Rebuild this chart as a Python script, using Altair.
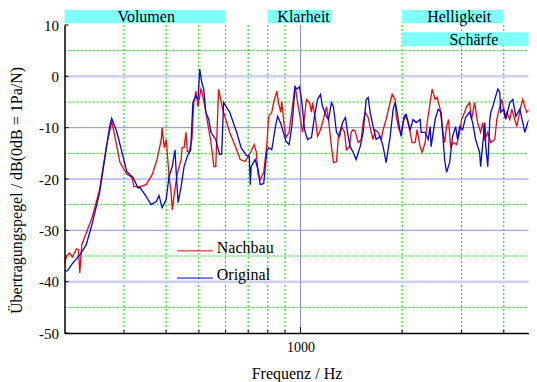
import altair as alt
import pandas as pd

# ---------------- data ----------------
orig_f = [200, 204, 211, 222, 232, 242, 254, 263, 272, 276, 286, 296, 306, 319, 330, 335,
          349, 361, 374, 381, 389, 400, 408, 417, 425, 428, 434, 443, 452, 462, 473, 480,
          490, 497, 503, 510, 517, 524, 535, 543, 561, 576, 584, 592, 617, 647, 667, 691,
          705, 710, 714, 734, 749, 760, 778, 795, 805, 822, 845, 856, 874, 906, 925, 944,
          964, 977, 993, 1007, 1028, 1049, 1078, 1100, 1123, 1146, 1162, 1194, 1210, 1235,
          1252, 1278, 1305, 1332, 1359, 1378, 1403, 1432, 1461, 1502, 1533, 1565, 1586, 1608,
          1641, 1675, 1721, 1757, 1793, 1843, 1881, 1907, 1933, 1973, 1986, 2027, 2055, 2112,
          2156, 2200, 2261, 2277, 2340, 2388, 2421, 2437, 2505, 2557, 2609, 2645, 2672, 2708,
          2764, 2821, 2880, 2919, 2960, 3021, 3083, 3168, 3234, 3301, 3392, 3415, 3514, 3538,
          3586, 3636, 3661, 3711, 3762, 3840, 3892, 3919, 4000, 4055, 4167, 4253, 4341, 4461,
          4553, 4616, 4711, 4809, 5000]
orig_db = [-37.9, -37.9, -36.5, -34.8, -32.8, -28.5, -22.7, -16.2, -9.8, -8.2, -10.9, -14.8, -18.6, -19.7, -21.7, -21.7,
           -23.4, -25.0, -24.4, -23.2, -25.6, -24.0, -19.5, -17.6, -14.3, -18.2, -24.6, -21.5, -17.6, -15.6, -14.3, -5.1,
           -3.9, -4.5, 1.4, -1.2, -2.5, -7.0, -8.4, -10.9, -12.3, -15.2, -15.2, -5.1, -7.0, -10.9, -13.9, -15.4,
           -15.6, -21.1, -17.6, -16.2, -18.2, -21.1, -20.9, -14.6, -13.9, -14.3, -9.4, -7.8, -9.2, -12.7, -13.3, -9.4,
           -2.1, -2.5, -2.0, -4.5, -10.4, -12.3, -11.9, -7.8, -4.5, -3.5, -5.9, -7.8, -8.4, -5.1,
           -5.9, -10.9, -11.7, -9.0, -8.0, -10.9, -13.7, -14.8, -16.2, -13.7, -10.9, -4.5, -4.1, -7.0,
           -9.8, -12.3, -11.7, -13.7, -16.8, -11.7, -6.4, -5.1, -7.0, -10.9, -11.7, -7.8, -7.4, -10.4,
           -8.4, -9.0, -8.4, -10.9, -10.9, -12.3, -9.8, -13.7, -8.4, -6.4, -7.0, -12.3, -16.2, -18.7,
           -16.8, -11.7, -9.8, -12.3, -9.8, -10.4, -8.0, -7.0, -9.0, -12.3, -14.8, -17.6, -9.0, -13.7,
           -17.6, -8.4, -7.0, -5.9, -4.5, -2.5, -3.1, -7.0, -6.4, -8.4, -5.1, -4.5, -7.8, -6.4,
           -9.0, -10.9, -9.0, -7.8, -9.0]

nach_f = [200, 203, 207, 211, 217, 220, 222, 225, 232, 242, 254, 266, 276, 282, 292, 306,
          317, 321, 335, 349, 364, 376, 387, 389, 395, 400, 403, 408, 414, 417, 422, 431,
          443, 446, 452, 458, 462, 467, 477, 483, 490, 497, 507, 510, 524, 543, 554, 561,
          572, 588, 617, 647, 663, 686, 700, 714, 729, 739, 749, 760, 778, 795, 805, 822,
          833, 851, 862, 874, 880, 894, 906, 925, 944, 964, 977, 1000, 1014, 1028, 1042, 1063,
          1078, 1085, 1108, 1123, 1146, 1162, 1194, 1210, 1235, 1252, 1278, 1295, 1322, 1350, 1368, 1397,
          1412, 1432, 1452, 1482, 1512, 1533, 1554, 1586, 1619, 1641, 1664, 1698, 1733, 1757, 1793, 1843,
          1868, 1907, 1920, 1959, 1986, 2014, 2041, 2069, 2112, 2141, 2185, 2215, 2261, 2292, 2340, 2372,
          2421, 2454, 2505, 2539, 2592, 2627, 2672, 2708, 2745, 2783, 2841, 2899, 2960, 3000, 3062, 3104,
          3168, 3212, 3278, 3346, 3415, 3466, 3514, 3586, 3661, 3762, 3814, 3892, 3946, 4027, 4083, 4167,
          4224, 4312, 4371, 4492, 4553, 4616, 4679, 4776, 4842, 5000]
nach_db = [-36.5, -35.0, -34.4, -35.2, -33.6, -33.8, -38.3, -32.8, -30.5, -27.3, -22.1, -13.7, -8.8, -11.7, -16.8, -19.1,
           -19.7, -21.5, -21.5, -21.1, -19.1, -16.2, -12.3, -10.0, -13.9, -12.3, -14.8, -19.5, -22.7, -26.0, -23.4, -19.1,
           -16.2, -13.9, -13.9, -10.9, -14.6, -14.8, -12.3, -5.1, -2.9, -5.9, -2.5, -2.9, -6.8, -12.9, -17.6, -17.6,
           -2.5, -6.4, -10.9, -14.3, -16.2, -16.6, -15.6, -14.6, -13.3, -14.6, -19.1, -20.1, -18.7, -13.3, -7.8, -7.0,
           -5.1, -2.9, -5.3, -7.0, -4.9, -9.4, -11.9, -10.9, -6.4, -1.8, -4.5, -8.4, -10.9, -7.8, -4.5, -5.1,
           -7.0, -5.1, -8.4, -11.7, -10.4, -9.0, -5.9, -8.4, -13.7, -16.8, -16.6, -11.7, -9.8, -10.9, -14.3, -13.7,
           -10.9, -10.4, -10.7, -12.9, -12.3, -9.0, -7.0, -8.0, -10.9, -12.3, -10.4, -10.9, -12.3, -10.4, -8.4, -5.1,
           -3.5, -4.5, -7.8, -10.4, -10.9, -9.0, -7.8, -8.4, -10.9, -12.9, -12.9, -10.4, -13.7, -14.8, -12.9, -9.0,
           -5.1, -2.5, -4.5, -4.1, -6.4, -9.8, -12.9, -9.8, -8.4, -13.7, -12.9, -13.3, -10.9, -8.4, -7.0, -5.9,
           -5.1, -8.4, -5.1, -9.0, -10.9, -9.0, -12.3, -10.9, -12.9, -12.3, -8.4, -5.9, -4.5, -7.8, -7.0, -8.4,
           -6.4, -8.4, -9.8, -5.9, -4.5, -5.9, -7.0, -6.4, -9.8, -9.0]

series_names = ["Nachbau", "Original"]
series_colors = ["#ff0000", "#0000ff"]

# visible frequency range (the reference is cut off at the right edge)
f_min, f_max = 200, 4734

# frequency bands (banners above the plot)
band_names = ["Volumen", "Klarheit", "Helligkeit", "Schärfe"]
band_f_lo = [200, 800, 2000, 2000]
band_f_hi = [600, 1240, 4000, 4734]
band_db_lo = [10.35, 10.35, 10.35, 5.9]
band_db_hi = [12.9, 12.9, 12.9, 8.6]
band_text_f = [349, 1021, 2950, 3262]
band_text_db = [11.6, 11.6, 11.6, 7.1]

# grid values
green_v_f = [300, 400, 500, 600, 700, 800, 900, 2000, 3000, 4000]
green_h_db = [-45, -35, -25, -15, -5, 5]
blue_h_db = [-10, -20, -30]
pale_h_db = [0, -40]
blue_v_f = [1000]
y_ticks = [10, 0, -10, -20, -30, -40, -50]
x_tick_label = [1000]

# legend entries (drawn inside the plot)
legend_f_start = [431, 431]
legend_f_end = [550, 550]
legend_db = [-34.0, -39.3]
legend_text_f = [565, 565]
legend_text_db = [-33.4, -38.7]

# ---------------- chart ----------------
W, H = 464, 308
FONT = "Liberation Serif, DejaVu Serif, serif"
xs = alt.Scale(type="log", domain=[f_min, f_max], nice=False)
ys = alt.Scale(domain=[-50, 10], nice=False, zero=False)

curves = pd.concat([
    pd.DataFrame({"f": nach_f, "db": nach_db, "s": "Nachbau"}),
    pd.DataFrame({"f": orig_f, "db": orig_db, "s": "Original"}),
], ignore_index=True)

color_enc = alt.Color("s:N", scale=alt.Scale(domain=series_names, range=series_colors),
                      legend=None)

# invisible first layer that carries the axes
axis_carrier = alt.Chart(curves).mark_line(strokeOpacity=0).encode(
    x=alt.X("f:Q", scale=xs,
            axis=alt.Axis(values=x_tick_label, labelExpr="toString(datum.value)",
                          title="Frequenz / Hz",
                          grid=False, ticks=False, domainColor="black", domainWidth=1.5,
                          labelFont=FONT, labelFontSize=14, labelColor="black",
                          labelPadding=7, titleFont=FONT, titleFontSize=16,
                          titleFontWeight="normal", titleColor="black",
                          titleY=40, titleBaseline="middle", zindex=1)),
    y=alt.Y("db:Q", scale=ys,
            axis=alt.Axis(values=y_ticks, labelExpr="toString(datum.value)",
                          title="Übertragungspegel / dB(0dB = 1Pa/N)",
                          grid=False, ticks=False, domainColor="black", domainWidth=1.5,
                          labelFont=FONT, labelFontSize=15, labelColor="black",
                          labelPadding=6, titleFont=FONT, titleFontSize=16,
                          titleFontWeight="normal", titleColor="black",
                          titleAngle=270, titleX=-48, titleY=165,
                          titleAlign="center", titleBaseline="middle", zindex=1)),
    detail="s:N",
)

gv = alt.Chart(pd.DataFrame({"f": green_v_f})).mark_rule(
    color="#00dd00", strokeDash=[2, 2], strokeWidth=1
).encode(x=alt.X("f:Q", scale=xs), y=alt.value(0), y2=alt.value(H))

gh = alt.Chart(pd.DataFrame({"db": green_h_db})).mark_rule(
    color="#00dd00", strokeDash=[2, 2], strokeWidth=1
).encode(y=alt.Y("db:Q", scale=ys), x=alt.value(0), x2=alt.value(W))

bh = alt.Chart(pd.DataFrame({"db": blue_h_db})).mark_rule(
    color="#8c8cf5", strokeWidth=1
).encode(y=alt.Y("db:Q", scale=ys), x=alt.value(0), x2=alt.value(W))

ph = alt.Chart(pd.DataFrame({"db": pale_h_db})).mark_rule(
    color="#cfcff8", strokeWidth=2.5
).encode(y=alt.Y("db:Q", scale=ys), x=alt.value(0), x2=alt.value(W))

bv = alt.Chart(pd.DataFrame({"f": blue_v_f})).mark_rule(
    color="#8c8cf5", strokeWidth=1
).encode(x=alt.X("f:Q", scale=xs), y=alt.value(0), y2=alt.value(H))

bands = pd.DataFrame({"name": band_names, "f1": band_f_lo, "f2": band_f_hi,
                      "d1": band_db_lo, "d2": band_db_hi,
                      "tf": band_text_f, "td": band_text_db})
band_rect = alt.Chart(bands).mark_rect(color="#80ffff").encode(
    x=alt.X("f1:Q", scale=xs), x2="f2:Q",
    y=alt.Y("d1:Q", scale=ys), y2="d2:Q")
band_text = alt.Chart(bands).mark_text(
    font=FONT, fontSize=16, color="black", align="center", baseline="middle"
).encode(x=alt.X("tf:Q", scale=xs),
         y=alt.Y("td:Q", scale=ys), text="name:N")

lines = alt.Chart(curves).mark_line(strokeWidth=1.3, clip=True).encode(
    x=alt.X("f:Q", scale=xs),
    y=alt.Y("db:Q", scale=ys),
    color=color_enc,
    order="f:Q",
)

leg = pd.DataFrame({"s": series_names, "f1": legend_f_start, "f2": legend_f_end,
                    "db": legend_db, "tf": legend_text_f, "td": legend_text_db})
leg_rule = alt.Chart(leg).mark_rule(strokeWidth=1).encode(
    x=alt.X("f1:Q", scale=xs), x2="f2:Q",
    y=alt.Y("db:Q", scale=ys),
    color=color_enc)
leg_text = alt.Chart(leg).mark_text(
    font=FONT, fontSize=16, color="black", align="left", baseline="middle"
).encode(x=alt.X("tf:Q", scale=xs),
         y=alt.Y("td:Q", scale=ys), text="s:N")

ytk = alt.Chart(pd.DataFrame({"db": y_ticks})).mark_rule(color="black", strokeWidth=1).encode(
    y=alt.Y("db:Q", scale=ys), x=alt.value(0), x2=alt.value(4))
xtk = alt.Chart(pd.DataFrame({"f": green_v_f})).mark_rule(color="black", strokeWidth=1).encode(
    x=alt.X("f:Q", scale=xs), y=alt.value(H), y2=alt.value(H - 3))
xtk2 = alt.Chart(pd.DataFrame({"f": blue_v_f})).mark_rule(color="black", strokeWidth=1).encode(
    x=alt.X("f:Q", scale=xs), y=alt.value(H), y2=alt.value(H - 6))

chart = alt.layer(
    axis_carrier, gv, gh, bh, ph, bv, band_rect, band_text, lines, leg_rule, leg_text,
    ytk, xtk, xtk2
).properties(
    width=W, height=H,
    autosize=alt.AutoSizeParams(type="none"),
    padding={"left": 56.5, "top": 17, "right": 0, "bottom": 49},
).configure_view(stroke=None)

chart.save("out.html", embed_options={"renderer": "svg", "actions": False})
